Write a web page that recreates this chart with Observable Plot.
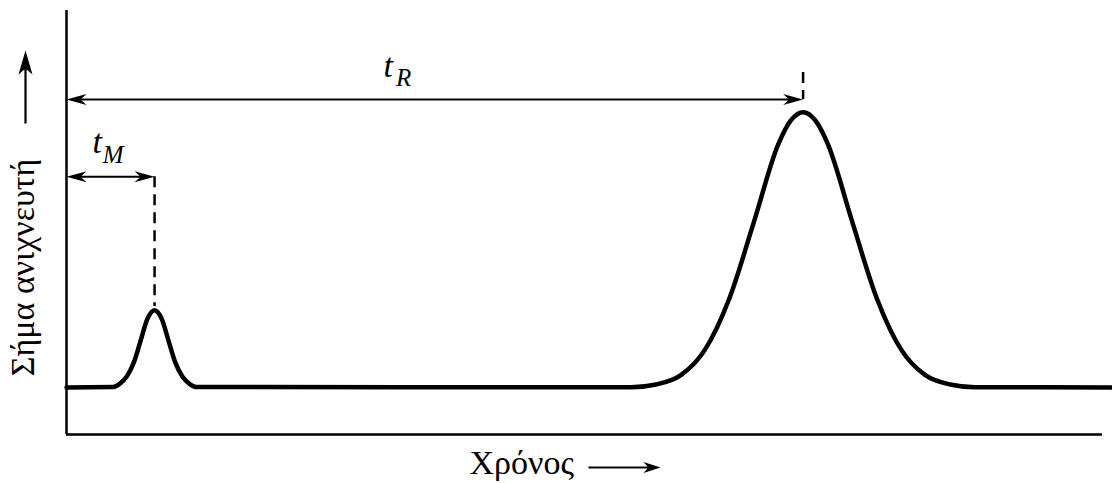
<!DOCTYPE html>
<html><head><meta charset="utf-8">
<script src="https://cdn.jsdelivr.net/npm/d3@7"></script>
<script src="https://cdn.jsdelivr.net/npm/@observablehq/plot@0.6"></script>
<style>body{margin:0;background:#fff}</style>
</head><body><div id="chart"></div>
<script>
// Chromatogram trace (time, detector signal)
const time   = [0, 4.45, 5.1, 5.8, 6.5, 7.15, 7.8, 8.5, 9.2, 9.85, 10.5, 11.2, 11.9, 12.55,
                54.5, 56.9, 59.3, 61.6, 64.0, 66.4, 68.7, 69.9, 71.1, 72.3, 73.5, 75.8, 78.2, 80.6, 82.9, 85.3, 87.7, 101];
const signal = [11.1, 11.2, 11.9, 13.6, 17.0, 22.1, 27.2, 29.3, 27.2, 22.1, 17.0, 13.6, 11.9, 11.2,
                11.15, 11.8, 14.0, 19.9, 32.2, 50.5, 68.4, 74.0, 76.0, 74.0, 68.4, 50.5, 32.2, 19.9, 14.0, 11.8, 11.15, 11.1];

// Annotated intervals: dead time t_M and retention time t_R
const subscripts   = ["M", "R"];
const peakTimes    = [8.5, 71.1];
const arrowLevels  = [60.8, 79.0];
const dashStart    = [60.8, 85.4];
const dashEnd      = [30.2, 79.0];
const labelX       = [2.5, 30.6];
const labelY       = [66.5, 84.4];
const subX         = [3.5, 31.8];
const subY         = [64.0, 82.1];

const yLabel = "Σήμα ανιχνευτή";
const xLabel = "Χρόνος";

const serif = "Liberation Serif";

const trace = time.map((t, i) => ({t, s: signal[i]}));
const intervals = subscripts.map((sub, i) => ({
  sub, start: 0, end: peakTimes[i], level: arrowLevels[i],
  d0: dashStart[i], d1: dashEnd[i], lx: labelX[i], ly: labelY[i], sx: subX[i], sy: subY[i]
}));

function polySymbol(pts) {
  return {draw(ctx) {
    ctx.moveTo(pts[0][0], pts[0][1]);
    for (let k = 1; k < pts.length; k++) ctx.lineTo(pts[k][0], pts[k][1]);
    ctx.closePath();
  }};
}
const headRight = polySymbol([[0,0],[-20,-5.5],[-14,0],[-20,5.5]]);
const headLeft  = polySymbol([[0,0],[20,-5.5],[14,0],[20,5.5]]);
const upArrow   = polySymbol([[0,0],[7,24],[1.1,19],[1.1,73],[-1.1,73],[-1.1,19],[-7,24]]);
const rightArrow= polySymbol([[0,0],[-17,-5.5],[-13,-0.9],[-72,-0.9],[-72,0.9],[-13,0.9],[-17,5.5]]);

const chart = Plot.plot({
  width: 1112, height: 483,
  marginLeft: 66, marginRight: 10, marginTop: 10, marginBottom: 49,
  x: {domain: [0, 100], axis: null},
  y: {domain: [0, 100], axis: null},
  style: {fontFamily: serif, background: "white", color: "black", overflow: "visible"},
  marks: [
    Plot.ruleY([0], {stroke: "black", strokeWidth: 2.5}),
    Plot.ruleX([0], {stroke: "black", strokeWidth: 2.5}),
    Plot.line(trace, {x: "t", y: "s", curve: "monotone-x", stroke: "black", strokeWidth: 4.5, strokeLinejoin: "round"}),
    Plot.ruleX(intervals, {x: "end", y1: "d0", y2: "d1", stroke: "black", strokeWidth: 2.5, strokeDasharray: "11,7"}),
    Plot.arrow(intervals, {x1: "start", x2: "end", y1: "level", y2: "level", stroke: "black", strokeWidth: 2,
      headLength: 0, bend: 0, insetStart: 8, insetEnd: 8}),
    Plot.dot(intervals, {x: "start", y: "level", symbol: headLeft, fill: "black", stroke: "none"}),
    Plot.dot(intervals, {x: "end", y: "level", symbol: headRight, fill: "black", stroke: "none"}),
    Plot.text(intervals, {x: "lx", y: "ly", text: () => "t", fontStyle: "italic", fontSize: 34, fontFamily: serif,
      textAnchor: "start", lineAnchor: "bottom", fill: "black"}),
    Plot.text(intervals, {x: "sx", y: "sy", text: "sub", fontStyle: "italic", fontSize: 25, fontFamily: serif,
      textAnchor: "start", lineAnchor: "bottom", fill: "black"}),
    Plot.text([yLabel], {frameAnchor: "left", text: d => d, rotate: -90, dx: -33, dy: 45, fontFamily: serif,
      fontSize: 34, textAnchor: "middle", lineAnchor: "bottom", fill: "black"}),
    Plot.text([xLabel], {frameAnchor: "bottom", text: d => d, dx: -115, dy: 39, fontFamily: serif,
      fontSize: 34, textAnchor: "start", lineAnchor: "bottom", fill: "black"}),
    Plot.dot(["up"], {frameAnchor: "top-left", dx: -41, dy: 40, symbol: upArrow, fill: "black", stroke: "none"}),
    Plot.dot(["right"], {frameAnchor: "bottom", dx: 76, dy: 33, symbol: rightArrow, fill: "black", stroke: "none"})
  ]
});
d3.select(chart).selectAll("text").style("font-family", serif);
document.getElementById("chart").appendChild(chart);
</script>
</body></html>
